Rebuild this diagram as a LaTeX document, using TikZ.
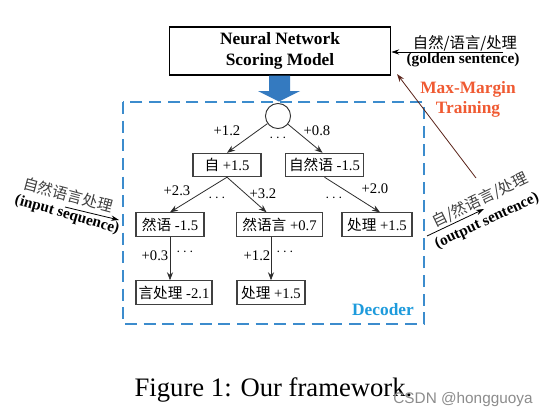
\documentclass[tikz,border=0pt]{standalone}
\usepackage{fontspec}
\setmainfont{Liberation Serif}
\newfontfamily\cjk{Noto Sans CJK SC}
\newfontfamily\wmfont{Liberation Sans}
\usetikzlibrary{arrows.meta,calc}
\definecolor{dashblue}{RGB}{60,140,205}
\definecolor{arrowblue}{RGB}{52,122,192}
\definecolor{mmred}{RGB}{240,90,50}
\definecolor{decblue}{RGB}{30,155,220}
\definecolor{brownline}{RGB}{90,35,25}
\definecolor{edgegray}{RGB}{45,45,45}
\newcommand{\zhs}[1]{{\cjk #1}}
\tikzset{
  treebox/.style={draw=black!75, line width=0.8pt, minimum height=17.5pt, inner sep=0pt, font=\fontsize{11}{13}\selectfont},
  tedge/.style={draw=edgegray, line width=0.6pt, -{Stealth[length=6pt,width=4.5pt]}},
  lbl/.style={font=\fontsize{11}{13}\selectfont, inner sep=0pt},
  bigbold/.style={font=\bfseries\fontsize{13}{15.5}\selectfont, align=center, inner sep=0pt},
  sidebold/.style={font=\bfseries\fontsize{11.5}{13}\selectfont, inner sep=0pt},
  sidezh/.style={font=\cjk\fontsize{11.5}{13}\selectfont, inner sep=0pt},
  thinarrow/.style={line width=0.6pt, -{Stealth[length=6pt,width=4pt]}}
}
\begin{document}
\begin{tikzpicture}[x=0.75pt,y=-0.75pt]
\useasboundingbox (0,0) rectangle (549,418);
\fill[white] (0,0) rectangle (549,418);

% scoring model
\node[draw, line width=1pt, minimum width=166pt, minimum height=36pt, bigbold] (nn) at (280,51) {Neural Network\\Scoring Model};

% blue arrow
\fill[arrowblue] (269,75.5) -- (290,75.5) -- (290,91) -- (300,91) -- (279,101.5) -- (258,91) -- (269,91) -- cycle;

% decoder frame
\draw[dashblue, line width=1pt, dash pattern=on 9pt off 5pt] (123,102) rectangle (424,324);
\node[bigbold, text=decblue] (dec) at (383,310) {Decoder};

% root
\node[draw=black!80, line width=0.7pt, circle, minimum size=18.8pt, inner sep=0pt] (root) at (278,116) {};
\node[lbl] (d0) at (278,138) {$\cdots$};

% tree nodes
\node[treebox, minimum width=51pt] (n1) at (227,165) {\zhs{自} +1.5};
\node[treebox, minimum width=59pt] (n2) at (324.5,165) {\zhs{自然语} -1.5};
\node[treebox, minimum width=51pt] (n3) at (170,224.5) {\zhs{然语} -1.5};
\node[treebox, minimum width=64pt] (n4) at (279.5,224.5) {\zhs{然语言} +0.7};
\node[treebox, minimum width=52.5pt] (n5) at (377,224.5) {\zhs{处理} +1.5};
\node[treebox, minimum width=57pt] (n6) at (174,292.5) {\zhs{言处理} -2.1};
\node[treebox, minimum width=51pt] (n7) at (271,292.5) {\zhs{处理} +1.5};

% edges
\draw[tedge] (root) -- (n1.north);
\draw[tedge] (root) -- ($(n2.north)+(-2,0)$);
\draw[tedge] (n1.south) -- (n3.north);
\draw[tedge] (n1.south) -- ($(n4.north west)!0.35!(n4.north east)$);
\draw[tedge] (n2.south) -- ($(n5.north)+(3,0)$);
\draw[tedge] (n3.south) -- (n3.south |- n6.north);
\draw[tedge] (n7.north |- n4.south) -- (n7.north);

% edge labels
\node[lbl] (l1) at (227,131) {+1.2};
\node[lbl] (l2) at (317,131) {+0.8};
\node[lbl] (l3) at (177,191) {+2.3};
\node[lbl] (d1) at (217,198) {$\cdots$};
\node[lbl] (l4) at (263,194) {+3.2};
\node[lbl] (d2) at (334,198) {$\cdots$};
\node[lbl] (l5) at (375,189) {+2.0};
\node[lbl] (l6) at (155,256) {+0.3};
\node[lbl] (d3) at (185,252) {$\cdots$};
\node[lbl] (l7) at (257,256) {+1.2};
\node[lbl] (d4) at (285,252) {$\cdots$};

% golden sentence
\node[sidezh] (gz) at (465,43) {自然/语言/处理};
\node[sidebold] (gs) at (463,60) {(golden sentence)};
\coordinate (g0) at (503,52);
\draw[thinarrow] (g0) -- (nn.east |- g0);

% max-margin
\node[bigbold, text=mmred] (mm) at (468,99.5) {Max-Margin\\Training};
\coordinate (b0) at (476,178);
\coordinate (b1) at (397,74);
\draw[thinarrow, brownline] (b0) -- (b1);

% output sentence
\node[sidezh, rotate=26, text=black!75] (oz) at (480,200) {自/然语言/处理};
\node[sidebold, rotate=25] (os) at (487,221) {(output sentence)};
\coordinate (o0) at (427,236);
\coordinate (o1) at (484,209);
\draw[thinarrow] (o0) -- (o1);

% input sequence
\node[sidezh, rotate=-15, text=black!75] (iz) at (68,195) {自然语言处理};
\node[sidebold, rotate=-16] (is) at (67,215) {(input sequence)};
\coordinate (i0) at (65,207);
\coordinate (i1) at (119,220);
\draw[thinarrow] (i0) -- (i1);

% caption
\node[font=\fontsize{20}{24}\selectfont, inner sep=0pt] (cap) at (273.5,390) {Figure 1: Our framework.};
\node[font=\wmfont\fontsize{11.5}{13}\selectfont, text=black!45, inner sep=0pt] (wm) at (463,400) {CSDN @hongguoya};
\end{tikzpicture}
\end{document}
